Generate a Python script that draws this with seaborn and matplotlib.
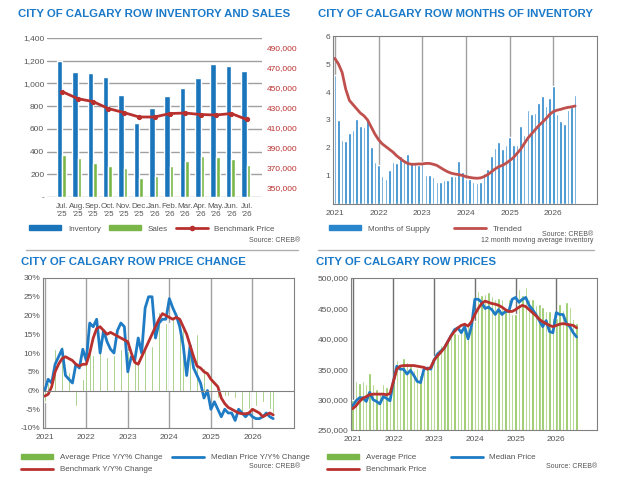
import numpy as np
import pandas as pd
import matplotlib
matplotlib.use("Agg")
import matplotlib.pyplot as plt
import seaborn as sns
from matplotlib.lines import Line2D
from matplotlib.patches import Patch

# DATA #
months1 = ["Jul.\n'25", "Aug.\n'25", "Sep.\n'25", "Oct.\n'25", "Nov.\n'25", "Dec.\n'25", "Jan.\n'26",
           "Feb.\n'26", "Mar.\n'26", "Apr.\n'26", "May.\n'26", "Jun.\n'26", "Jul.\n'26"]
inventory = [1195, 1100, 1095, 1055, 900, 655, 780, 885, 960, 1045, 1175, 1150, 1110]
sales = [370, 340, 300, 270, 255, 170, 185, 270, 318, 360, 350, 338, 285]
bench1 = [446000, 439000, 436000, 429000, 425000, 420500, 420500, 424000, 424500, 423000, 422500, 424000, 418000]

years = ["2021", "2022", "2023", "2024", "2025", "2026"]

mos_supply = [4.6, 3.0, 2.3, 2.25, 2.55, 2.65, 3.05, 2.8, 2.75, 3.0, 2.05, 1.5,
              1.4, 1.0, 0.9, 1.2, 1.5, 1.45, 1.7, 1.6, 1.8, 1.5, 1.5, 1.4,
              1.5, 1.05, 1.05, 0.95, 0.8, 0.8, 0.85, 0.85, 1.0, 1.0, 1.55, 1.15,
              0.9, 0.9, 0.8, 0.75, 0.8, 1.1, 1.25, 1.7, 2.0, 2.2, 1.95, 2.1,
              2.4, 2.1, 2.1, 2.8, 2.45, 3.35, 3.2, 3.25, 3.6, 3.85, 3.5, 3.8,
              4.2, 3.2, 2.95, 2.85, 3.35, 3.45, 3.9]
mos_trend = [5.2, 5.0, 4.7, 4.1, 3.7, 3.55, 3.4, 3.25, 3.15, 3.0, 2.75, 2.5,
             2.3, 2.15, 2.05, 1.95, 1.85, 1.72, 1.62, 1.52, 1.45, 1.42, 1.42, 1.43,
             1.43, 1.45, 1.45, 1.42, 1.38, 1.3, 1.22, 1.15, 1.1, 1.07, 1.05, 1.02,
             0.98, 0.95, 0.93, 0.92, 0.93, 0.98, 1.05, 1.15, 1.25, 1.33, 1.38, 1.45,
             1.55, 1.65, 1.8, 1.95, 2.15, 2.35, 2.5, 2.65, 2.8, 2.92, 3.05, 3.2,
             3.3, 3.35, 3.38, 3.42, 3.45, 3.47, 3.5]

avg_chg = [-3, 2, 7, 11, 15, 12, 8, 5, 3, -4, 2.5, 3,
           8, 10, 9.5, 11.5, 11, 3, 9, 7, 9.5, 9, 11, 11.5,
           10.5, 5, 8, 8, 9.5, 11, 16, 12, 17, 21, 20, 18,
           18, 20, 19.5, 18, 17, 15, 12, 10, 15, 8, 6, 2,
           3, 0, -2, -1, -1.5, -1.5, -3, -2, -4, -6, -3.5, -5,
           -5, -4, -4, -3, -3, -5, -6]
med_chg = [0, 3, 2, 7, 9, 11, 4, 3, 2, 7, 6, 11,
           8, 18, 17, 19, 10, 16, 13, 11, 10, 16, 18, 17,
           5, 9, 8, 14, 10, 22, 25, 25, 14, 18, 19, 19,
           24.5, 22, 20, 17, 12, 4, 12, 6, 4, 2, -2, 0,
           -5, -3, -5, -7, -5, -6, -6, -8, -5, -6, -7, -6,
           -7, -7.5, -7.5, -7, -6, -7, -7.5]
bench_chg = [-1.5, -1, 1, 5, 7, 8.5, 9, 8.5, 8, 7, 6.5, 7,
             7, 10, 14, 16.5, 17, 16, 15, 15.5, 15, 14.5, 14, 13.5,
             13, 10, 7.5, 7, 9, 11, 13, 15, 17, 19, 20.5, 20,
             19.5, 19, 19.5, 19, 17, 15, 12, 9, 6.5, 6, 5, 4.5,
             3, 2, 1, -2, -3.5, -4.5, -5, -5.5, -6, -6.2, -6.2, -6,
             -5, -5.5, -6, -7, -6.5, -6, -6.5]

avg_price = [300, 330, 328, 330, 325, 343, 325, 318, 312, 325, 320, 310,
             335, 365, 358, 368, 362, 355, 348, 352, 340, 345, 355, 350,
             372, 375, 390, 392, 400, 405, 410, 408, 418, 425, 425, 420,
             430, 478, 472, 473, 477, 470, 465, 467, 465, 445, 465, 440,
             440, 482, 472, 486, 466, 465, 455, 457, 452, 445, 445, 435,
             435, 457, 448, 460, 453, 432, 426]
med_price = [290, 298, 303, 303, 297, 312, 300, 297, 293, 305, 302, 298,
             330, 355, 350, 350, 342, 348, 340, 330, 328, 350, 352, 350,
             365, 375, 380, 385, 395, 405, 415, 418, 410, 420, 400, 420,
             465, 465, 460, 450, 452, 448, 440, 448, 440, 445, 445, 465,
             468, 460, 465, 468, 455, 448, 440, 430, 420, 430, 412, 410,
             443, 440, 440, 425, 420, 410, 403]
bench_price = [285, 290, 297, 302, 305, 308, 309, 309, 309, 309, 308, 310,
               330, 350, 355, 356, 356, 356, 356, 355, 354, 353, 350, 353,
               365, 372, 378, 385, 395, 405, 412, 418, 422, 424, 421, 428,
               440, 450, 458, 462, 460, 458, 457, 455, 452, 448, 445, 445,
               448, 452, 455, 453, 448, 443, 438, 432, 428, 425, 422, 420,
               422, 424, 425, 424, 423, 422, 418]

# STYLE #
sns.set_style("white")
plt.rcParams['font.family'] = ['Liberation Sans', 'DejaVu Sans']
BLUE = '#1b75bb'
GREEN = '#7ab648'
RED = '#b8312f'
TITLE = '#1a7ac9'
GRID = '#a0a0a0'
TICK = '#555555'

fig = plt.figure(figsize=(6.19, 4.78), dpi=100)
W, H = 619, 478

def box(l, t, r, b):
    return [l / W, 1 - b / H, (r - l) / W, (b - t) / H]

def title(x, y, s):
    fig.text(x / W, 1 - y / H, s, color=TITLE, fontsize=8.2, fontweight='bold', va='center')

def small(x, y, s, ha='right'):
    fig.text(x / W, 1 - y / H, s, color=TICK, fontsize=5, ha=ha, va='center')

def style(ax):
    for sp in ax.spines.values():
        sp.set_color('#808080')
        sp.set_linewidth(0.8)
    ax.tick_params(labelsize=6, colors=TICK, length=0, pad=2)
    ax.tick_params(axis='x', pad=4)

n = len(mos_supply)
idx = np.arange(n)

# ---- Panel 1: inventory and sales ----
ax1 = fig.add_axes(box(47, 38, 262, 197))
df1 = pd.DataFrame({'m': months1 * 2, 'v': inventory + sales,
                    's': ['Inventory'] * 13 + ['Sales'] * 13})
sns.barplot(data=df1, x='m', y='v', hue='s', palette=[BLUE, GREEN], ax=ax1,
            width=0.72, legend=False, saturation=1)
for p in ax1.patches[13:26]:
    w = p.get_width()
    p.set_width(w * 0.65)
ax1.set_ylim(0, 1400)
ax1.set_yticks(range(0, 1401, 200))
ax1.set_yticklabels(['-'] + [f'{v:,}' for v in range(200, 1401, 200)])
ax1.yaxis.grid(True, color=GRID, lw=1)
ax1.set_axisbelow(True)
ax1.set_xlabel(''); ax1.set_ylabel('')
style(ax1)
for sp in ax1.spines.values():
    sp.set_visible(False)
ax1.tick_params(axis='x', labelsize=5.8)
ax1b = ax1.twinx()
sns.lineplot(x=np.arange(13), y=bench1, ax=ax1b, color=RED, lw=2, marker='o', ms=3, mec=RED)
ax1b.set_ylim(340000, 500000)
ax1b.set_yticks(range(350000, 490001, 20000))
ax1b.set_yticklabels([f'{v:,}' for v in range(350000, 490001, 20000)])
ax1b.tick_params(labelsize=6, colors=RED, length=0)
for sp in ax1b.spines.values():
    sp.set_visible(False)
title(18, 14, 'CITY OF CALGARY ROW INVENTORY AND SALES')
fig.legend(handles=[Patch(color=BLUE, label='Inventory'), Patch(color=GREEN, label='Sales'),
                    Line2D([], [], color=RED, lw=2, marker='o', ms=3, label='Benchmark Price')],
           loc='center left', bbox_to_anchor=(22 / W, 1 - 229 / H), ncol=3, frameon=False,
           fontsize=5.8, handlelength=4, handleheight=0.5, columnspacing=1, labelcolor=TICK)
small(300, 241, 'Source: CREB®')

# ---- Panel 2: months of inventory ----
ax2 = fig.add_axes(box(333, 36, 597, 204))
ax2.bar(idx, mos_supply, color='#2a86cc', width=0.7)
sns.lineplot(x=idx, y=mos_trend, ax=ax2, color='#c0504d', lw=2)
ax2.set_xlim(-0.5, 72)
ax2.set_ylim(0, 6)
ax2.set_yticks(range(7))
ax2.set_yticklabels([''] + [str(v) for v in range(1, 7)])
ax2.set_xticks(np.arange(0, 61, 12))
ax2.set_xticklabels(years)
ax2.xaxis.grid(True, color=GRID, lw=1)
ax2.set_axisbelow(True)
style(ax2)
title(318, 14, 'CITY OF CALGARY ROW MONTHS OF INVENTORY')
fig.legend(handles=[Patch(color='#2a86cc', label='Months of Supply'),
                    Line2D([], [], color='#c0504d', lw=2, label='Trended')],
           loc='center left', bbox_to_anchor=(322 / W, 1 - 229 / H), ncol=2, frameon=False,
           fontsize=5.8, handlelength=4, handleheight=0.5, columnspacing=3, labelcolor=TICK)
small(593, 234, 'Source: CREB®')
small(593, 241, '12 month moving average inventory')

# separators
fig.add_artist(Line2D([26 / W, 298 / W], [1 - 250 / H] * 2, color='#b0b0b0', lw=1))
fig.add_artist(Line2D([318 / W, 594 / W], [1 - 250 / H] * 2, color='#b0b0b0', lw=1))

# ---- Panel 3: price change ----
ax3 = fig.add_axes(box(43, 278, 294, 428))
ax3.bar(idx, avg_chg, color=GREEN, width=0.45)
sns.lineplot(x=idx, y=med_chg, ax=ax3, color='#1f7cc4', lw=2)
sns.lineplot(x=idx, y=bench_chg, ax=ax3, color=RED, lw=2)
ax3.axhline(0, color='#808080', lw=0.8)
ax3.set_xlim(-0.5, 72)
ax3.set_ylim(-10, 30)
ax3.set_yticks(range(-10, 31, 5))
ax3.set_yticklabels([f'{v}%' for v in range(-10, 31, 5)])
ax3.set_xticks(np.arange(0, 61, 12))
ax3.set_xticklabels(years)
ax3.xaxis.grid(True, color=GRID, lw=1)
ax3.set_axisbelow(True)
style(ax3)
title(21, 262, 'CITY OF CALGARY ROW PRICE CHANGE')
fig.legend(handles=[Patch(color=GREEN, label='Average Price Y/Y% Change'),
                    Line2D([], [], color=RED, lw=2, label='Benchmark Y/Y% Change'),
                    Line2D([], [], color='#1f7cc4', lw=2, label='Median Price Y/Y% Change')],
           loc='upper left', bbox_to_anchor=(14 / W, 1 - 447 / H), ncol=2, frameon=False,
           fontsize=5.8, handlelength=4, handleheight=0.5, columnspacing=1.2, labelcolor=TICK,
           labelspacing=0.6)
small(300, 467, 'Source: CREB®')

# ---- Panel 4: prices ----
ax4 = fig.add_axes(box(351, 278, 597, 430))
ax4.bar(idx, [v * 1000 for v in avg_price], color='#8cc456', width=0.72)
sns.lineplot(x=idx, y=[v * 1000 for v in med_price], ax=ax4, color='#1f7cc4', lw=2)
sns.lineplot(x=idx, y=[v * 1000 for v in bench_price], ax=ax4, color=RED, lw=2)
ax4.set_xlim(-0.5, 72)
ax4.set_ylim(250000, 500000)
ax4.set_yticks(range(250000, 500001, 50000))
ax4.set_yticklabels([f'{v:,}' for v in range(250000, 500001, 50000)])
ax4.set_xticks(np.arange(0, 61, 12))
ax4.set_xticklabels(years)
ax4.xaxis.grid(True, color='#707070', lw=1)
ax4.set_axisbelow(True)
style(ax4)
title(316, 262, 'CITY OF CALGARY ROW PRICES')
fig.legend(handles=[Patch(color=GREEN, label='Average Price'),
                    Line2D([], [], color=RED, lw=2, label='Benchmark Price'),
                    Line2D([], [], color='#1f7cc4', lw=2, label='Median Price')],
           loc='upper left', bbox_to_anchor=(320 / W, 1 - 447 / H), ncol=2, frameon=False,
           fontsize=5.8, handlelength=4, handleheight=0.5, columnspacing=3, labelcolor=TICK,
           labelspacing=0.6)
small(597, 467, 'Source: CREB®')

fig.savefig('out.png', dpi=100)
